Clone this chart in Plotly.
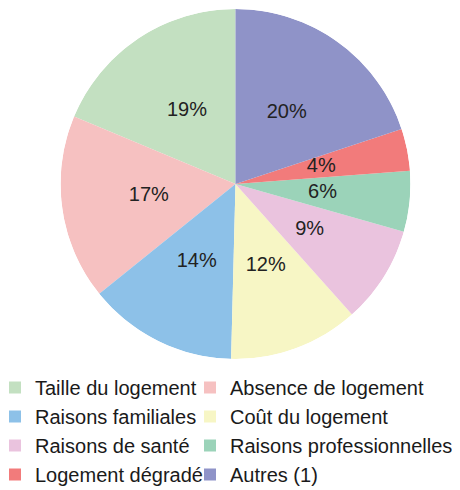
import plotly.graph_objects as go

labels = ["Taille du logement", "Absence de logement", "Raisons familiales",
          "Coût du logement", "Raisons de santé", "Raisons professionnelles",
          "Logement dégradé", "Autres (1)"]
values = [18.7, 17.1, 13.8, 12.0, 9.0, 5.6, 3.9, 19.9]
colors = ["#c3e0c1", "#f6c1c1", "#8dc1e8", "#f7f6c5",
          "#eac3de", "#9bd3b9", "#f27b7b", "#8f93c8"]

total = sum(values)
mids, widths = [], []
cum = 0.0
for v in values:
    widths.append(v / total * 360)
    mids.append((cum + v / 2) / total * 360)
    cum += v

fig = go.Figure()
for i, (lab, v, c, th, w) in enumerate(zip(labels, values, colors, mids, widths)):
    fig.add_trace(go.Barpolar(
        r=[1], theta=[th], width=[w], name=lab,
        marker=dict(color=c, line=dict(width=0)),
        legend="legend" if i % 2 == 0 else "legend2",
        hovertemplate=lab + ": %{customdata}%<extra></extra>", customdata=[v],
    ))
fig.add_trace(go.Scatterpolar(
    r=[0.5] * len(values), theta=mids, mode="text",
    text=[f"{round(v)}%" for v in values],
    textfont=dict(family="Liberation Sans", size=20, color="#222222"),
    showlegend=False, hoverinfo="skip",
))

PH = 355  # plot-area height in px
legend_font = dict(family="Liberation Sans", size=20, color="#1a1a1a")
fig.update_layout(
    width=460, height=490,
    margin=dict(l=0, r=0, t=0, b=490 - PH, autoexpand=False),
    paper_bgcolor="white", plot_bgcolor="white",
    polar=dict(
        domain=dict(x=[52.5/460, 402.5/460], y=[4/PH, (PH - 1)/PH]),
        bgcolor="rgba(0,0,0,0)", bargap=0, hole=0,
        angularaxis=dict(direction="counterclockwise", rotation=90, visible=False,
                         showgrid=False, showline=False),
        radialaxis=dict(range=[0, 1], visible=False, showgrid=False, showline=False),
    ),
    showlegend=True,
    legend=dict(orientation="v", x=-13/460, xanchor="left", y=(PH - 360)/PH, yanchor="top",
                font=legend_font, traceorder="normal", bgcolor="rgba(0,0,0,0)"),
    legend2=dict(orientation="v", x=182/460, xanchor="left", y=(PH - 360)/PH, yanchor="top",
                 font=legend_font, traceorder="normal", bgcolor="rgba(0,0,0,0)"),
)
fig.write_html("out.html")
